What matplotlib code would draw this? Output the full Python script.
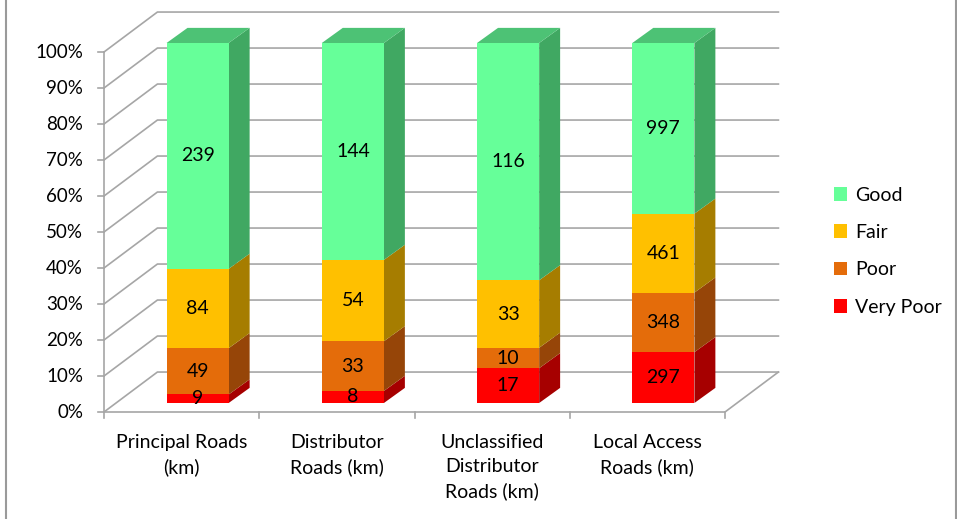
import matplotlib.pyplot as plt
from matplotlib.patches import Polygon

# road condition data (km)
categories = ['Principal Roads\n(km)', 'Distributor\nRoads (km)',
              'Unclassified\nDistributor\nRoads (km)', 'Local Access\nRoads (km)']
series = ['Very Poor', 'Poor', 'Fair', 'Good']
very_poor = [9, 8, 17, 297]
poor = [49, 33, 10, 348]
fair = [84, 54, 33, 461]
good = [239, 144, 116, 997]
y_ticks = [0, 10, 20, 30, 40, 50, 60, 70, 80, 90, 100]

front_colors = ['#FF0000', '#E46C0A', '#FFC000', '#66FF99']
side_colors = ['#A60000', '#964508', '#A67D00', '#40A862']
top_color = '#4DC275'
grid_color = '#A6A6A6'

plt.rcParams['font.family'] = ['Lato', 'DejaVu Sans']

fig = plt.figure(figsize=(9.57, 5.19), dpi=100)
fig.patch.set_facecolor('white')
W, H = 957, 519
# axes: x 0..4 (categories), y 0..100 (%)
ax = fig.add_axes([104 / W, (H - 412) / H, 621 / W, 360 / H])
ax.set_xlim(0, 4)
ax.set_ylim(0, 100)
ax.axis('off')

# depth offsets (data units)
wall_dx, wall_dy = 0.344, 11.1      # back wall
bar_dx0, bar_dy0 = 0.103, 2.5       # bar front face
bar_ddx, bar_ddy = 0.135, 4.2       # bar depth
bar_w = 0.4

kw = dict(clip_on=False)

# back wall gridlines + diagonals
for t in y_ticks:
    ax.plot([0, wall_dx, 4 + wall_dx], [t, t + wall_dy, t + wall_dy],
            color=grid_color, lw=1.2, **kw)
    ax.plot([-0.04, 0], [t, t], color=grid_color, lw=1.2, **kw)
    ax.text(-0.135, t, f'{t}%', ha='right', va='center', fontsize=13.5, **kw)
# front axis and floor
ax.plot([0, 0], [0, 100], color=grid_color, lw=1.2, **kw)
ax.plot([0, 4, 4 + wall_dx], [0, 0, wall_dy], color=grid_color, lw=1.2, **kw)
for i in range(5):
    ax.plot([i, i], [0, -1.6], color=grid_color, lw=1.2, **kw)

data = [very_poor, poor, fair, good]
for i, cat in enumerate(categories):
    vals = [s[i] for s in data]
    total = sum(vals)
    x0 = i + 0.5 - bar_w / 2 + bar_dx0
    x1 = x0 + bar_w
    base = bar_dy0
    for k, v in enumerate(vals):
        h = v / total * 100
        y0, y1 = base, base + h
        ax.add_patch(Polygon([(x1, y0), (x1 + bar_ddx, y0 + bar_ddy),
                              (x1 + bar_ddx, y1 + bar_ddy), (x1, y1)],
                             facecolor=side_colors[k], edgecolor='none', zorder=3, **kw))
        ax.add_patch(Polygon([(x0, y0), (x1, y0), (x1, y1), (x0, y1)],
                             facecolor=front_colors[k], edgecolor='none', zorder=4, **kw))
        ax.text((x0 + x1) / 2, (y0 + y1) / 2, str(v), ha='center', va='center',
                fontsize=14, zorder=6, **kw)
        base = y1
    ax.add_patch(Polygon([(x0, base), (x1, base), (x1 + bar_ddx, base + bar_ddy),
                          (x0 + bar_ddx, base + bar_ddy)],
                         facecolor=top_color, edgecolor='none', zorder=4, **kw))
    ax.text(i + 0.5, -6.0, cat, ha='center', va='top', fontsize=14,
            linespacing=1.5, **kw)

# legend
handles = [plt.Rectangle((0, 0), 1, 1, facecolor=front_colors[k]) for k in range(3, -1, -1)]
fig.legend(handles, series[::-1], loc='upper left', bbox_to_anchor=(816 / W, 1 - 169 / H),
           frameon=False, fontsize=14, handlelength=0.7, handleheight=0.7,
           labelspacing=1.05, handletextpad=0.4)

# outer frame lines
fig.add_artist(plt.Line2D([6 / W, 6 / W], [0, 1], color='#9A9A9A', lw=1.5))
fig.add_artist(plt.Line2D([956 / W, 956 / W], [0, 1], color='#9A9A9A', lw=1.5))

fig.savefig('out.png', dpi=100)
